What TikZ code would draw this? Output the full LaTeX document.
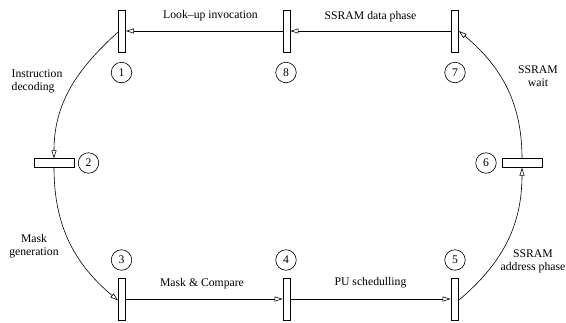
\documentclass[tikz,border=0pt]{standalone}
\usepackage{fontspec}
\setmainfont{Liberation Serif}
\usetikzlibrary{arrows.meta}
\begin{document}
\begin{tikzpicture}[x=1pt,y=-1pt,
  font=\fontsize{11.7}{13}\selectfont,
  vbar/.style={draw, line width=0.8pt, fill=white, minimum width=7pt, minimum height=42pt, inner sep=0pt},
  hbar/.style={draw, line width=0.8pt, fill=white, minimum width=40pt, minimum height=8.5pt, inner sep=0pt},
  num/.style={draw, circle, line width=0.6pt, minimum size=20.5pt, inner sep=0pt},
  conn/.style={line width=0.6pt, -{Triangle[open, length=8pt, width=5pt]}},
  lbl/.style={inner sep=0pt, align=center}]
\useasboundingbox (0,0) rectangle (566,322);
% bars
\node[vbar] (b1) at (122,31) {};
\node[vbar] (b8) at (286.5,31) {};
\node[vbar] (b7) at (455,31) {};
\node[hbar] (b2) at (54,163) {};
\node[hbar] (b6) at (522,163) {};
\node[vbar] (b3) at (122,299) {};
\node[vbar] (b4) at (286.5,299) {};
\node[vbar] (b5) at (454.5,299) {};
% numbers
\node[num] (c1) at (121.5,72.5) {1};
\node[num] (c8) at (286,72.5) {8};
\node[num] (c7) at (455,72.5) {7};
\node[num] (c2) at (88.5,163) {2};
\node[num] (c6) at (486,163) {6};
\node[num] (c3) at (121.5,260) {3};
\node[num] (c4) at (286,260) {4};
\node[num] (c5) at (455,260) {5};
% connectors
\draw[conn] (b8.west) -- (b1.east);
\draw[conn] (b7.west) -- (b8.east);
\draw[conn] (b3.east) -- (b4.west);
\draw[conn] (b4.east) -- (b5.west);
\draw[conn] ([yshift=-1pt]b1.west) to[out=222, in=90] (b2.north);
\draw[conn] (b2.south) to[out=-90, in=140] ([yshift=-1.5pt]b3.west);
\draw[conn] ([yshift=-1.5pt]b5.east) to[out=40, in=-90] (b6.south);
\draw[conn] (b6.north) to[out=90, in=-40] (b7.east);
% labels
\node[lbl] (t1) at (210.5,16) {Look--up invocation};
\node[lbl] (t2) at (370.5,16.5) {SSRAM data phase};
\node[lbl, align=left, anchor=west] (t3) at (11.5,81.5) {Instruction\\decoding};
\node[lbl] (t4) at (34,246) {Mask\\generation};
\node[lbl] (t5) at (202,284) {Mask \& Compare};
\node[lbl] (t6) at (370.5,282.5) {PU schedulling};
\node[lbl] (t7) at (538,76) {SSRAM\\wait};
\node[lbl, anchor=east] (t8) at (565.5,261) {SSRAM\\address phase};
\end{tikzpicture}
\end{document}
